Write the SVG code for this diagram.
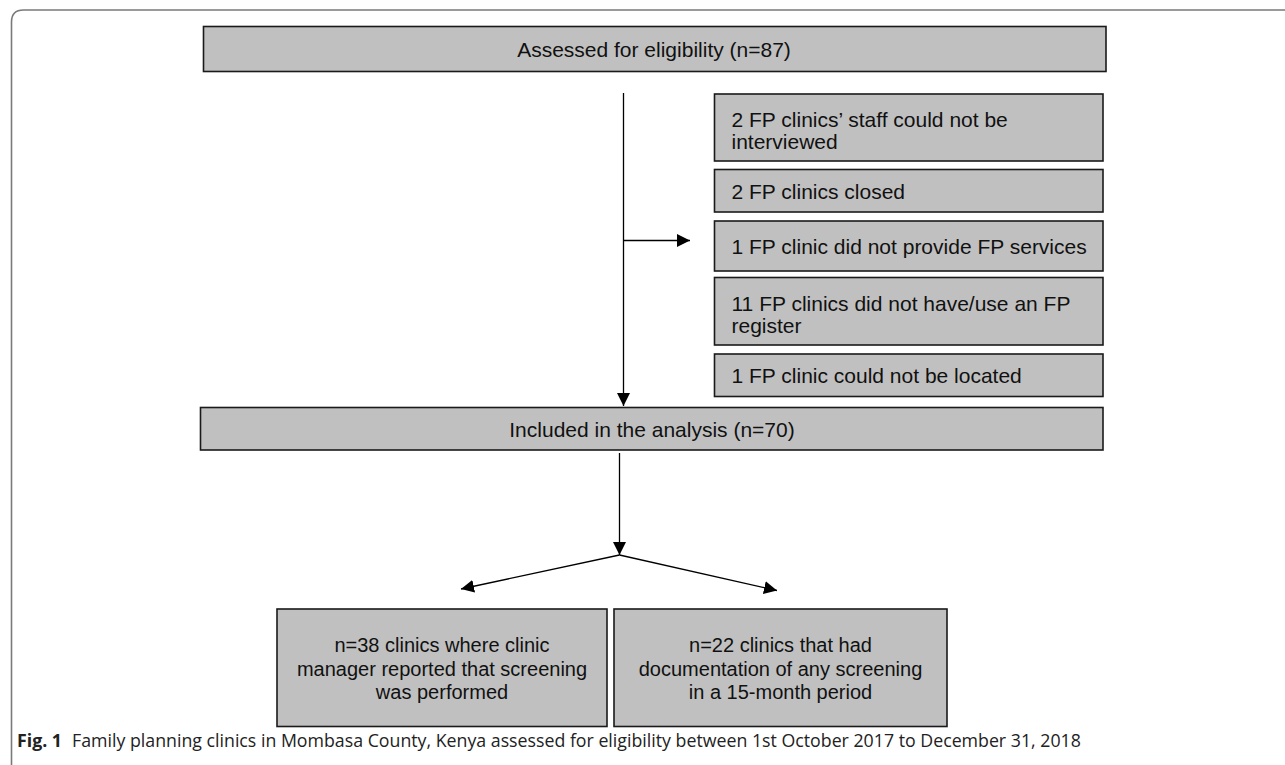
<svg xmlns="http://www.w3.org/2000/svg" width="1285" height="765" viewBox="0 0 1285 765">
<defs>
<style>
.box{fill:#c0c0c0;stroke:#1a1a1a;stroke-width:1.6}
.t{font-family:"Liberation Sans",Arial,sans-serif;font-size:21px;fill:#111}
.s{font-size:20px}
.c{text-anchor:middle}
.ln{stroke:#000;stroke-width:1.3;fill:none}
.cap{font-family:"Open Sans","Noto Sans",sans-serif;font-size:17.75px;fill:#222}
</style>
<marker id="ah" markerWidth="14" markerHeight="14" refX="13" refY="7" orient="auto" markerUnits="userSpaceOnUse">
<path d="M0,0.5 L13,7 L0,13.5 Z" fill="#000"/>
</marker>
</defs>
<rect width="1285" height="765" fill="#fff"/>
<path d="M11.5,765 L11.5,22 Q11.5,10 23.5,10 L1285,10" fill="none" stroke="#7a7a7a" stroke-width="1.6"/>

<g id="connectors">
<line class="ln" x1="623.5" y1="93" x2="623.5" y2="406" marker-end="url(#ah)"/>
<line class="ln" x1="623.5" y1="240.5" x2="690" y2="240.5" marker-end="url(#ah)"/>
<line class="ln" x1="619.5" y1="453" x2="619.5" y2="555" marker-end="url(#ah)"/>
<line class="ln" x1="619.5" y1="555" x2="461" y2="589" marker-end="url(#ah)"/>
<line class="ln" x1="619.5" y1="555" x2="777" y2="590.5" marker-end="url(#ah)"/>
</g>

<g id="assessed">
<rect class="box" x="203.5" y="26.5" width="902.5" height="45"/>
<text class="t c" x="654" y="56.5">Assessed for eligibility (n=87)</text>
</g>
<g id="ex1">
<rect class="box" x="714.5" y="94" width="388.5" height="67"/>
<text class="t" x="731.5" y="127">2 FP clinics’ staff could not be</text>
<text class="t" x="731.5" y="149">interviewed</text>
</g>
<g id="ex2">
<rect class="box" x="714.5" y="169.5" width="388.5" height="42.5"/>
<text class="t" x="731.5" y="198.5">2 FP clinics closed</text>
</g>
<g id="ex3">
<rect class="box" x="714.5" y="221" width="388.5" height="50"/>
<text class="t" x="731.5" y="253.5">1 FP clinic did not provide FP services</text>
</g>
<g id="ex4">
<rect class="box" x="714.5" y="277.5" width="388.5" height="67.5"/>
<text class="t" x="731.5" y="310.5">11 FP clinics did not have/use an FP</text>
<text class="t" x="731.5" y="332.5">register</text>
</g>
<g id="ex5">
<rect class="box" x="714.5" y="354" width="388.5" height="42.5"/>
<text class="t" x="731.5" y="383">1 FP clinic could not be located</text>
</g>
<g id="included">
<rect class="box" x="200.5" y="407.5" width="902.5" height="42.5"/>
<text class="t c" x="652" y="436.5">Included in the analysis (n=70)</text>
</g>
<g id="reported">
<rect class="box" x="277" y="609" width="330" height="117.5"/>
<text class="t s c" x="442" y="651.5">n=38 clinics where clinic</text>
<text class="t s c" x="442" y="675.5">manager reported that screening</text>
<text class="t s c" x="442" y="699">was performed</text>
</g>
<g id="documented">
<rect class="box" x="614" y="609" width="333" height="117.5"/>
<text class="t s c" x="780.5" y="651.5">n=22 clinics that had</text>
<text class="t s c" x="780.5" y="675.5">documentation of any screening</text>
<text class="t s c" x="780.5" y="699">in a 15-month period</text>
</g>
<text class="cap" x="17" y="747"><tspan font-weight="bold">Fig. 1</tspan><tspan dx="10">Family planning clinics in Mombasa County, Kenya assessed for eligibility between 1st October 2017 to December 31, 2018</tspan></text>
</svg>
